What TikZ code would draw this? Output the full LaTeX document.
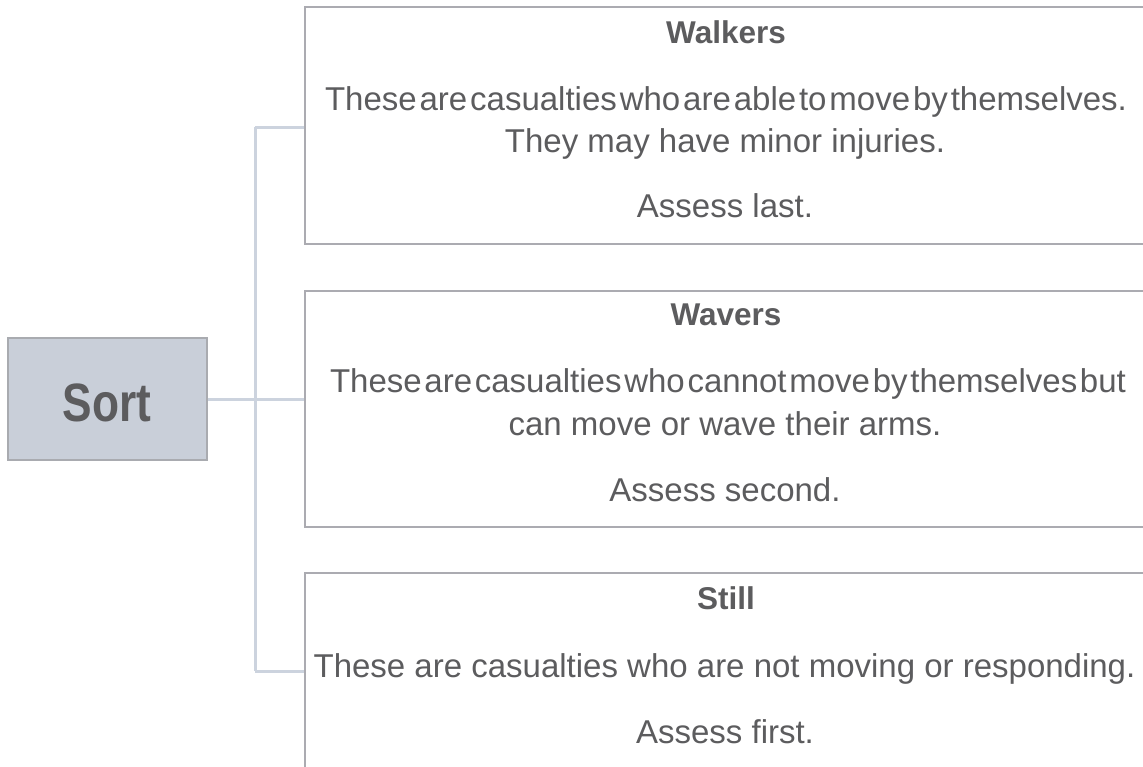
\documentclass[tikz,border=0pt]{standalone}
\usepackage{fontspec}
\usepackage{graphicx}
\setmainfont{Liberation Sans}
\definecolor{inkgray}{HTML}{5C5C5E}
\definecolor{framegray}{HTML}{ABABB1}
\definecolor{sortfill}{HTML}{C9CFD9}
\definecolor{sortedge}{HTML}{A9ABB0}
\definecolor{linkblue}{HTML}{CCD3DE}
% a line whose interword spaces shrink or stretch to a fixed width
\newcommand\spreadline[2]{\hbox to #1{\spaceskip=0pt plus 1fil\relax #2}}
\tikzset{
  card/.style={draw=framegray, line width=2.4pt, fill=white, rectangle, inner sep=0pt},
  sortbox/.style={draw=sortedge, line width=2pt, fill=sortfill, rectangle, inner sep=0pt,
    minimum width=199pt, minimum height=122pt},
  heading/.style={anchor=base, text=inkgray, inner sep=0pt,
    font=\fontsize{31.5}{36}\selectfont\bfseries},
  bodytext/.style={anchor=base, text=inkgray, inner sep=0pt,
    font=\fontsize{33}{40}\selectfont},
  link/.style={draw=linkblue, line width=3pt}
}
\begin{document}
\begin{tikzpicture}[x=1pt, y=-1pt]
\useasboundingbox (0,0) rectangle (1143,766);
\clip (0,0) rectangle (1143,766);

% three category cards (right and lower edges run past the page)
\node[card, minimum width=850pt, minimum height=237pt] (walkers) at (730,125.5) {};
\node[card, minimum width=850pt, minimum height=236pt] (wavers)  at (730,409) {};
\node[card, minimum width=850pt, minimum height=237pt] (still)   at (730,691.5) {};

% the root box
\node[sortbox] (sort) at (107.5,399) {};
\node[anchor=base, text=inkgray, inner sep=0pt, font=\fontsize{54}{60}\selectfont\bfseries]
  (sortlabel) at (107,421) {\scalebox{0.82}[1]{Sort}};

% tree connectors
\coordinate (j1) at (255,127);
\coordinate (j3) at (255,671);
\draw[link] (j1) -- (j3);
\draw[link] (sort.east) -- (sort.east -| wavers.west);
\draw[link] (j1) -- (j1 -| walkers.west);
\draw[link] (j3) -- (j3 -| still.west);

% Walkers
\node[heading]  (t1)  at (726,43)  {Walkers};
\node[bodytext] (b1a) at (726,110) {\spreadline{802pt}{These are casualties who are able to move by themselves.}};
\node[bodytext] (b1b) at (725,152) {They may have minor injuries.};
\node[bodytext] (b1c) at (725,217) {Assess last.};

% Wavers
\node[heading]  (t2)  at (726,325) {Wavers};
\node[bodytext] (b2a) at (728,392) {\spreadline{796pt}{These are casualties who cannot move by themselves but}};
\node[bodytext] (b2b) at (725,435) {can move or wave their arms.};
\node[bodytext] (b2c) at (725,501) {Assess second.};

% Still
\node[heading]  (t3)  at (726,609) {Still};
\node[bodytext] (b3a) at (724.5,677) {These are casualties who are not moving or responding.};
\node[bodytext] (b3b) at (725,743) {Assess first.};
\end{tikzpicture}
\end{document}
